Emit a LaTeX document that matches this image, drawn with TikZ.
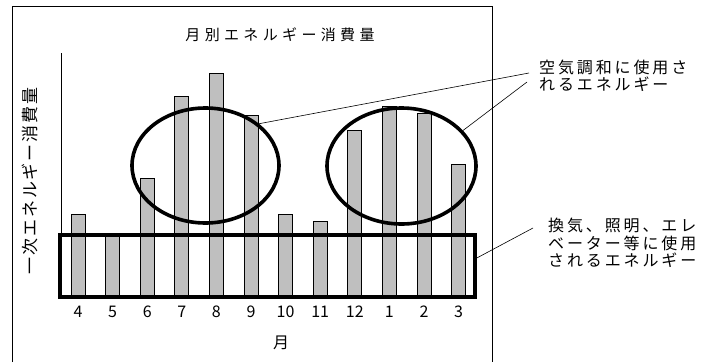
\documentclass[tikz,border=0pt]{standalone}
\usepackage{fontspec}
\setmainfont{Noto Sans CJK JP}
\usetikzlibrary{shapes.geometric}

\tikzset{
  monthbar/.style={fill=black!25, draw=black, line width=0.9pt},
  ovalmark/.style={ellipse, draw=black, line width=3.6pt, inner sep=0pt},
  baseband/.style={rectangle, draw=black, line width=3.6pt, inner sep=0pt},
  leader/.style={draw=black, line width=0.6pt},
  note/.style={align=left, inner sep=2pt,
    font=\fontsize{16}{17.5}\selectfont\addfontfeatures{LetterSpace=18}},
  ticklbl/.style={font=\fontsize{16}{18}\selectfont, inner sep=0pt}
}

\begin{document}
\begin{tikzpicture}[x=1pt,y=-1pt]
  \useasboundingbox (0,0) rectangle (702,362);
  \draw[line width=1pt] (12,362) -- (12,6) -- (492,6) -- (492,362);

    \node (title) at (280,35) {\fontsize{15}{17}\selectfont\addfontfeatures{LetterSpace=29}月別エネルギー消費量};
    \node[rotate=90] (ylbl) at (30,181) {\fontsize{17}{19}\selectfont\addfontfeatures{LetterSpace=11}一次エネルギー消費量};
    \node[ticklbl] (xlbl) at (281,343) {月};

  \draw[line width=0.8pt] (61,53) -- (61,298);

  % monthly bars
  \foreach \m/\top [count=\i from 0] in {4/214,5/236,6/178,7/96,8/73,9/115,10/214,11/221,12/130,1/106,2/113,3/164} {
    \draw[monthbar] ({78+34.6*\i-7},\top) rectangle ({78+34.6*\i+7},298);
    \node[ticklbl] (m\m) at ({78+34.6*\i},312) {\m};
  }

    \node[ovalmark, minimum width=147pt, minimum height=115pt] (acL) at (205.5,165.5) {};
    \node[ovalmark, minimum width=149pt, minimum height=116pt] (acR) at (401.5,166) {};
    \node[baseband, minimum width=415pt, minimum height=62pt] (base) at (267.5,266) {};

    \node[note, anchor=west] (acNote) at (537,76) {空気調和に使用さ\\れるエネルギー};
    \node[note, anchor=west] (baseNote) at (546,243) {換気、照明、エレ\\ベーター等に使用\\されるエネルギー};

  \draw[leader] (acL.38) -- ([xshift=-8pt,yshift=3pt]acNote.west);
  \draw[leader] (acR.30) -- ([xshift=-10pt,yshift=-6pt]acNote.west);
  \draw[leader] ([yshift=8pt]base.east) -- ([xshift=-13pt,yshift=15pt]baseNote.west);
\end{tikzpicture}
\end{document}
